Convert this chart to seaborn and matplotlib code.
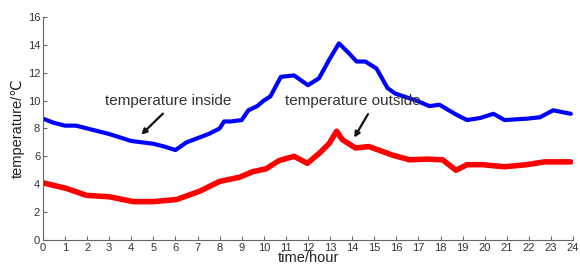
import numpy as np
import pandas as pd
import matplotlib
matplotlib.use("Agg")
import matplotlib.pyplot as plt
import seaborn as sns

# Values (hour, degrees C)
hour_inside = [0, 0.5, 1, 1.5, 2, 2.5, 3, 3.5, 4, 4.5, 5, 5.5, 6, 6.5, 7, 7.5, 8, 8.2,
               8.5, 9, 9.3, 9.7, 10, 10.3, 10.77, 11.37, 12.0, 12.5, 12.95, 13.4,
               13.85, 14.2, 14.6, 15.1, 15.6, 15.95, 16.9, 17.5, 17.95, 18.7, 19.2,
               19.8, 20.4, 20.9, 21.9, 22.5, 23.1, 23.9]
temp_inside = [8.7, 8.4, 8.2, 8.2, 8.0, 7.8, 7.6, 7.35, 7.1, 7.0, 6.9, 6.7, 6.45, 7.0,
               7.3, 7.6, 8.0, 8.5, 8.5, 8.6, 9.3, 9.6, 10.0, 10.3, 11.7, 11.8, 11.1,
               11.6, 12.9, 14.1, 13.4, 12.8, 12.8, 12.3, 10.9, 10.5, 10.0, 9.6, 9.7,
               9.0, 8.6, 8.75, 9.05, 8.6, 8.7, 8.8, 9.3, 9.05]

hour_outside = [0, 1.06, 1.97, 3.0, 4.1, 5.0, 6.05, 7.1, 8.0, 8.9, 9.5, 10.1, 10.7,
                11.37, 11.97, 12.5, 12.95, 13.3, 13.55, 14.15, 14.75, 15.2, 15.8,
                16.6, 17.4, 18.1, 18.7, 19.2, 19.9, 20.9, 21.9, 22.7, 23.5, 23.9]
temp_outside = [4.1, 3.7, 3.2, 3.1, 2.75, 2.75, 2.9, 3.5, 4.2, 4.5, 4.9, 5.1, 5.7,
                6.0, 5.5, 6.2, 6.9, 7.8, 7.2, 6.6, 6.7, 6.45, 6.1, 5.75, 5.8, 5.75,
                5.0, 5.4, 5.4, 5.25, 5.4, 5.6, 5.6, 5.6]

df_in = pd.DataFrame({"hour": hour_inside, "temp": temp_inside})
df_out = pd.DataFrame({"hour": hour_outside, "temp": temp_outside})

sns.set_style("ticks")
plt.rcParams["font.family"] = ["Liberation Sans", "DejaVu Sans"]

fig = plt.figure(figsize=(5.8, 2.64), dpi=100)
ax = fig.add_axes([0.074, 0.091, 0.914, 0.845])

sns.lineplot(data=df_in, x="hour", y="temp", color="#0000ff", linewidth=3.0, ax=ax)
sns.lineplot(data=df_out, x="hour", y="temp", color="#ff0000", linewidth=4.0, ax=ax)

ax.set_xlim(0, 24)
ax.set_ylim(0, 16)
ax.set_xticks(range(0, 25))
ax.set_yticks(range(0, 17, 2))
sns.despine(ax=ax)
for s in ["left", "bottom"]:
    ax.spines[s].set_color("#666666")
    ax.spines[s].set_linewidth(0.8)
ax.tick_params(direction="in", length=3, width=0.8, color="#666666",
               labelsize=8, labelcolor="#333333", pad=2)

ax.set_xlabel("time/hour", fontsize=10.5, color="#222222", labelpad=-1)
ax.set_ylabel("temperature/\u2103", fontsize=10.5, color="#222222", labelpad=2)

ax.annotate("temperature inside", xy=(4.36, 7.41), xytext=(2.8, 10.0),
            fontsize=11, color="#333333", va="center")
ax.annotate("", xy=(4.36, 7.41), xytext=(5.52, 9.2),
            arrowprops=dict(arrowstyle="-|>", color="#111111", lw=1.6,
                            mutation_scale=8))
ax.annotate("temperature outside", xy=(14.03, 7.17), xytext=(10.96, 9.97),
            fontsize=11, color="#333333", va="center")
ax.annotate("", xy=(14.03, 7.17), xytext=(14.78, 9.2),
            arrowprops=dict(arrowstyle="-|>", color="#111111", lw=1.6,
                            mutation_scale=8))

fig.savefig("out.png", dpi=100)
